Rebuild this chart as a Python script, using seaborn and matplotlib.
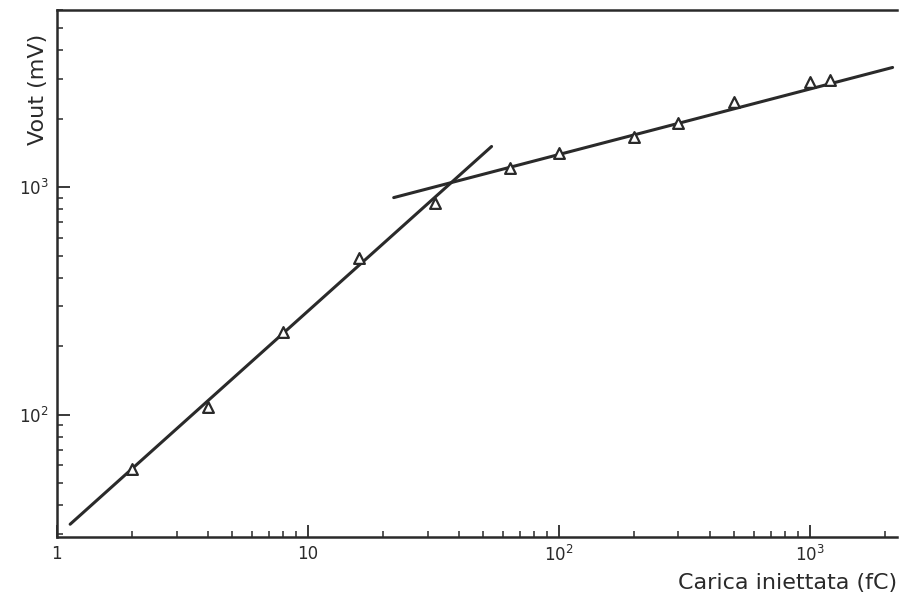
import numpy as np
import pandas as pd
import matplotlib
matplotlib.use("Agg")
import matplotlib.pyplot as plt
import seaborn as sns
from matplotlib.ticker import LogLocator, FixedLocator, FixedFormatter, NullFormatter

# measured points (injected charge fC, output mV)
charge = [2, 4, 8, 16, 32, 64, 100, 200, 300, 500, 1000, 1200]
vout = [58, 108, 230, 490, 850, 1210, 1410, 1670, 1910, 2360, 2890, 2950]

# fitted lines, endpoints
fit_lin_x = [1.13, 54]
fit_lin_y = [33, 1510]
fit_sat_x = [22, 2140]
fit_sat_y = [900, 3360]

xtick_vals = [1, 10, 100, 1000]
xtick_labels = ["1", "10", r"$10^2$", r"$10^3$"]
ytick_vals = [100, 1000]
ytick_labels = [r"$10^2$", r"$10^3$"]

sns.set_style("ticks")
plt.rcParams["font.family"] = ["DejaVu Sans"]
plt.rcParams["mathtext.fontset"] = "dejavusans"

fig = plt.figure(figsize=(9.02, 5.98), dpi=100)
ax = fig.add_axes([0.063, 0.102, 0.931, 0.881])

pts = pd.DataFrame({"q": charge, "v": vout})
lin = pd.DataFrame({"q": fit_lin_x, "v": fit_lin_y})
sat = pd.DataFrame({"q": fit_sat_x, "v": fit_sat_y})

sns.lineplot(data=lin, x="q", y="v", ax=ax, color="#2a2a2a", lw=2.2)
sns.lineplot(data=sat, x="q", y="v", ax=ax, color="#2a2a2a", lw=2.2)
sns.scatterplot(data=pts, x="q", y="v", ax=ax, marker="^", s=60,
                facecolor="white", edgecolor="#2a2a2a", linewidth=1.6, zorder=3)

ax.set_xscale("log")
ax.set_yscale("log")
ax.set_xlim(1, 2220)
ax.set_ylim(29, 6000)

ax.xaxis.set_major_locator(FixedLocator(xtick_vals))
ax.xaxis.set_major_formatter(FixedFormatter(xtick_labels))
ax.xaxis.set_minor_locator(LogLocator(base=10, subs=np.arange(2, 10)))
ax.xaxis.set_minor_formatter(NullFormatter())
ax.yaxis.set_major_locator(FixedLocator(ytick_vals))
ax.yaxis.set_major_formatter(FixedFormatter(ytick_labels))
ax.yaxis.set_minor_locator(LogLocator(base=10, subs=np.arange(2, 10)))
ax.yaxis.set_minor_formatter(NullFormatter())

ax.tick_params(which="major", direction="in", length=9, width=1.3,
               labelsize=12, colors="#2a2a2a", pad=6)
ax.tick_params(which="minor", direction="in", length=4, width=1.1, colors="#2a2a2a")

for side in ["left", "bottom", "top"]:
    ax.spines[side].set_color("#2a2a2a")
    ax.spines[side].set_linewidth(1.8)
ax.spines["right"].set_visible(False)

ax.set_xlabel("")
ax.set_ylabel("")
fig.text(0.995, 0.008, "Carica iniettata (fC)", ha="right", va="bottom",
         fontsize=16, color="#2a2a2a")
fig.text(0.042, 0.85, "Vout (mV)", ha="center", va="center", rotation=90,
         fontsize=16, color="#2a2a2a")

fig.savefig("out.png", dpi=100, facecolor="white")
